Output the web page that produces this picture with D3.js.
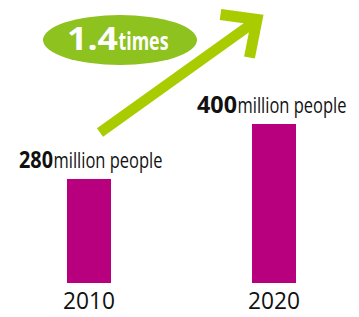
<!DOCTYPE html>
<html lang="en">
<head>
  <meta charset="UTF-8" />
  <title>Population growth</title>
  <script src="https://d3js.org/d3.v7.min.js"></script>
  <style>
    body { margin: 0; background: #fff; }
    text { font-family: "Open Sans", "Liberation Sans", sans-serif; fill: #111; }
  </style>
</head>
<body>
  <svg id="chart" width="359" height="317"></svg>

  <script>
    const years = ["2010", "2020"];
    const values = [280, 400];
    const unitLabel = "million people";
    const ratioLabel = "1.4";
    const ratioUnit = "times";

    const svg = d3.select("#chart");

    const x = d3.scalePoint().domain(years).range([89, 274]);
    const y = d3.scaleLinear().domain([53, 400]).range([283, 124]);
    const barW = 44;

    // squeeze a text horizontally to a given width (Myriad-like condensed look)
    function fitText(sel, x0, base, width) {
      const natural = sel.node().getComputedTextLength();
      sel.attr("transform", `translate(${x0},${base}) scale(${width / natural},1)`);
      return sel;
    }

    // bars
    svg.selectAll("rect.bar")
      .data(years)
      .join("rect")
        .attr("class", "bar")
        .attr("x", d => x(d) - barW / 2)
        .attr("y", (d, i) => y(values[i]))
        .attr("width", barW)
        .attr("height", (d, i) => y.range()[0] - y(values[i]))
        .attr("fill", "#b8007e");

    // year labels
    years.forEach(yr => {
      const t = svg.append("text")
        .attr("font-size", 24)
        .text(yr);
      fitText(t, x(yr) - 26, 309, 52);
    });

    // value labels
    const numW = [34, 40];
    const shift = [-70, -77];
    years.forEach((yr, i) => {
      const x0 = x(yr) + shift[i];
      const base = y(values[i]) - 11;
      const n = svg.append("text")
        .attr("font-size", 23)
        .attr("font-weight", "bold")
        .text(values[i]);
      fitText(n, x0, base, numW[i]);
      const u = svg.append("text")
        .attr("font-size", 21)
        .text(unitLabel);
      fitText(u, x0 + numW[i] + 0.5, base, 109);
    });

    // growth arrow
    const arrowColor = "#a9cc00";
    svg.append("line")
      .attr("x1", 100).attr("y1", 132.5)
      .attr("x2", 253).attr("y2", 23)
      .attr("stroke", arrowColor)
      .attr("stroke-width", 10.5);
    svg.append("polyline")
      .attr("points", "220.5,14.5 257,19.5 249.5,57.5")
      .attr("fill", "none")
      .attr("stroke", arrowColor)
      .attr("stroke-width", 11)
      .attr("stroke-linejoin", "miter");

    // ratio badge
    svg.append("ellipse")
      .attr("cx", 120).attr("cy", 40)
      .attr("rx", 77).attr("ry", 25)
      .attr("fill", "#8dc21f");
    const r1 = svg.append("text")
      .attr("font-size", 33)
      .attr("font-weight", "bold")
      .style("fill", "#fff")
      .text(ratioLabel);
    fitText(r1, 67, 50, 51);
    const r2 = svg.append("text")
      .attr("font-size", 25)
      .attr("font-weight", "bold")
      .style("fill", "#fff")
      .text(ratioUnit);
    fitText(r2, 118.5, 50, 50);
  </script>
</body>
</html>
